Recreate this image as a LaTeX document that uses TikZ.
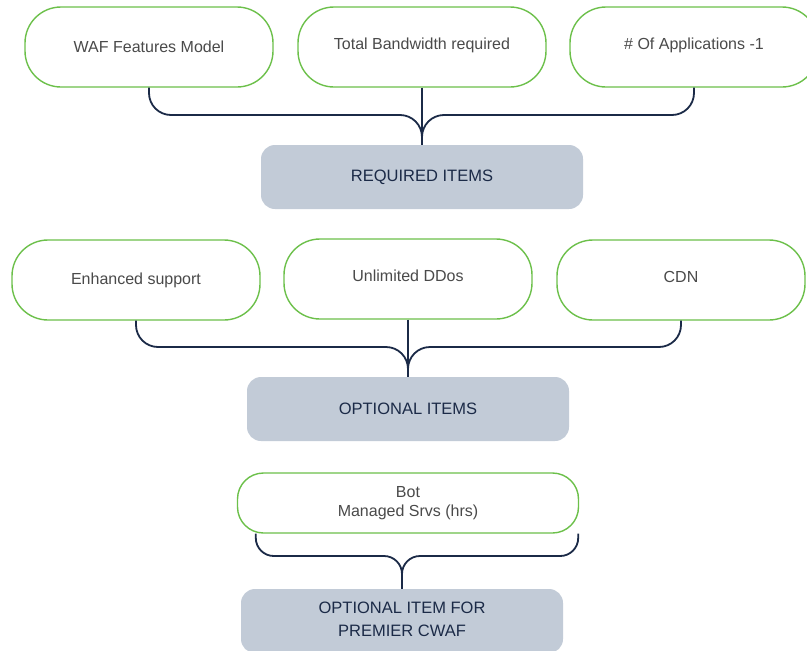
\documentclass[tikz,border=0pt]{standalone}
\usepackage{fontspec}
\setmainfont{Liberation Sans}
\definecolor{boxgreen}{HTML}{6CC04A}
\definecolor{itemgray}{HTML}{C2CBD7}
\definecolor{linknavy}{HTML}{1B2A47}
\definecolor{textgray}{HTML}{4A4A4A}
\tikzset{
	inbox/.style={draw=boxgreen, line width=1.4pt, rounded corners=36pt, fill=white,
		minimum width=248pt, minimum height=80pt, text=textgray, align=center,
		font=\fontsize{16}{19}\selectfont},
	itembox/.style={fill=itemgray, rounded corners=14pt, minimum width=322pt,
		minimum height=64pt, text=linknavy, align=center,
		font=\fontsize{16.5}{23}\selectfont},
	link/.style={draw=linknavy, line width=1.8pt, rounded corners=22pt},
}
\begin{document}
\begin{tikzpicture}[x=1pt,y=-1pt]
		\useasboundingbox (0,0) rectangle (807,651);
		% Obere Reihe
		\node[inbox] (waf) at (149,47) {WAF Features Model};
		\node[inbox, text depth=7pt] (bw) at (422,47) {Total Bandwidth required};
		\node[inbox, text depth=7pt] (apps) at (694,47) {\# Of Applications -1};
		\node[itembox] (req) at (422,177) {REQUIRED ITEMS};
		% Verbindungen oben
		\draw[link] (waf.south) |- (300,115) -| (req.north);
		\draw[link] (apps.south) |- (550,115) -| (req.north);
		\draw[link] (bw.south) -- (req.north);
		% Mittlere Reihe
		\node[inbox] (sup) at (136,280) {Enhanced support};
		\node[inbox, text depth=7pt] (ddos) at (408,279) {Unlimited DDos};
		\node[inbox, text depth=7pt] (cdn) at (681,280) {CDN};
		\node[itembox] (opt) at (408,409) {OPTIONAL ITEMS};
		% Verbindungen Mitte
		\draw[link] (sup.south) |- (280,347) -| (opt.north);
		\draw[link] (cdn.south) |- (540,347) -| (opt.north);
		\draw[link] (ddos.south) -- (opt.north);
		% Untere Reihe
		\node[inbox, minimum width=341pt, minimum height=60pt, rounded corners=26pt] (bot) at (408,503) {Bot\\Managed Srvs (hrs)};
		\node[itembox, text depth=4pt] (prem) at (402,621) {OPTIONAL ITEM FOR\\PREMIER CWAF};
		% Verbindungen unten
		\draw[link, rounded corners=18pt] (bot.south west) ++(19,0) |- (330,556) -| (prem.north);
		\draw[link, rounded corners=18pt] (bot.south east) ++(-1,0) |- (480,556) -| (prem.north);
	\end{tikzpicture}
\end{document}
